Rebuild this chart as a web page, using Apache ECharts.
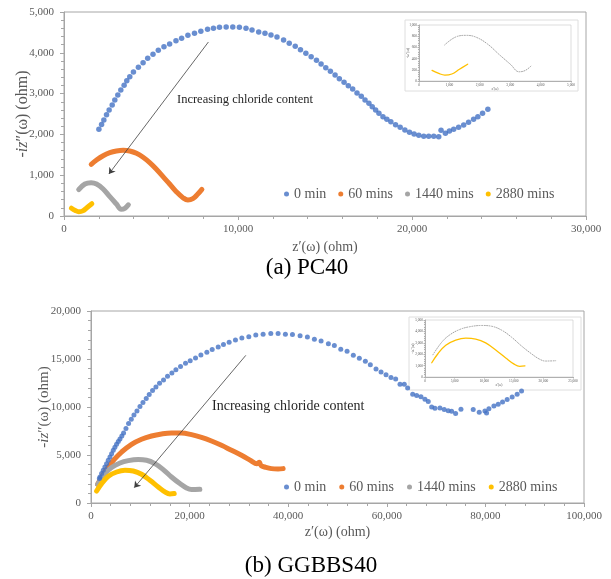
<!DOCTYPE html>
<html>
<head>
<meta charset="utf-8">
<script src="https://cdn.jsdelivr.net/npm/echarts@6.0.0/dist/echarts.min.js"></script>
<style>
  html, body { margin: 0; padding: 0; background: #ffffff; }
  #chart { width: 611px; height: 579px; }
</style>
</head>
<body>
<div id="chart"></div>
<script>
// Nyquist plots of impedance for two concrete mixes at four exposure times.
const seriesNames = ['0 min', '60 mins', '1440 mins', '2880 mins'];
const seriesColors = ['#4472C4', '#ED7D31', '#A5A5A5', '#FFC000'];

// ---- (a) PC40 : [z' (ohm), -iz'' (ohm)] ----
const pc40_0min = [
  [2005,2125],[2160,2240],[2290,2353],[2445,2483],[2595,2598],[2770,2720],[2920,2843],[3093,2966],
  [3265,3088],[3455,3203],[3608,3316],[3780,3415],[3990,3530],[4275,3645],[4545,3758],[4810,3865],
  [5115,3963],[5420,4061],[5745,4150],[6070,4216],[6435,4297],[6760,4355],[7120,4428],[7500,4477],
  [7865,4526],[8250,4575],[8590,4600],[8935,4624],[9320,4632],[9700,4632],[10080,4624],[10460,4600],
  [10805,4559],[11190,4510],[11550,4477],[11895,4436],[12240,4387],[12620,4314],[12945,4232],[13290,4158],
  [13590,4077],[13900,3987],[14205,3905],[14510,3815],[14775,3725],[15045,3635],[15310,3546],[15580,3456],
  [15825,3366],[16095,3277],[16340,3194],[16590,3113],[16840,3015],[17085,2934],[17300,2843],[17525,2762],
  [17715,2680],[17910,2598],[18100,2517],[18330,2435],[18555,2369],[18785,2312],[19055,2238],[19320,2173],
  [19590,2108],[19855,2051],[20120,2010],[20390,1977],[20675,1953],[20960,1953],[21250,1953],[21535,1944],
  [21670,2100],[21920,2027],[22150,2083],[22395,2125],[22680,2173],[22970,2230],[23250,2296],[23540,2369],
  [23785,2435],[24055,2517],[24360,2615]
];
const pc40_60min = [
  [1565,1267],[1870,1372],[2250,1478],[2635,1552],[3015,1593],[3400,1610],[3780,1593],[4165,1536],
  [4545,1438],[4925,1307],[5310,1144],[5690,964],[6070,784],[6455,596],[6835,449],[7120,392],
  [7405,425],[7690,539],[7925,654]
];
const pc40_1440min = [
  [845,645],[1200,784],[1560,815],[1870,784],[2250,662],[2635,474],[3015,294],[3290,165],
  [3495,188],[3700,275]
];
const pc40_2880min = [
  [430,190],[650,135],[850,105],[1080,125],[1330,210],[1600,300]
];

// ---- (b) GGBBS40 ----
const gg40_0min = [
  [1700,2550],[1820,2710],[2150,3060],[2490,3406],[2820,3750],[3160,4100],[3500,4450],[3850,4790],
  [4180,5140],[4520,5490],[4850,5800],[5190,6115],[5540,6400],[5880,6670],[6250,6980],[6610,7290],
  [7090,7750],[7620,8270],[8170,8720],[8710,9170],[9320,9580],[9930,10040],[10540,10460],[11205,10875],
  [11810,11290],[12480,11710],[13170,12080],[13900,12470],[14710,12810],[15520,13200],[16410,13540],[17220,13890],
  [18160,14210],[19170,14550],[20120,14830],[21200,15100],[22290,15420],[23500,15700],[24580,15980],[25800,16250],
  [26870,16500],[28020,16740],[29300,16980],[30600,17190],[32010,17330],[33430,17500],[34910,17570],[36470,17650],
  [37950,17650],[39430,17570],[40860,17550],[42410,17430],[43890,17290],[45310,17050],[46670,16880],[48150,16600],
  [49360,16400],[50660,16010],[51940,15800],[53210,15390],[54430,15070],[55650,14760],[56660,14410],[57810,13960],
  [58830,13650],[59840,13370],[60850,13060],[61800,12920],[62680,12360],[63550,12360],[64230,11980],[65250,11320],
  [66060,11190],[66930,11080],[67740,10800],[68410,10560],[69100,10000],[69770,9860],[70780,9900],[71650,9730],
  [72460,9620],[73150,9550],[73960,9310],[75040,9760],[77530,9730],[78750,9450],[79900,9580],[80240,9380],
  [80710,9830],[81720,10100],[82590,10280],[83480,10520],[84410,10770],[85430,11040],[86440,11320],[87330,11670]
];
const gg40_60min = [
  [1340,1950],[2150,2710],[3510,3750],[4860,4620],[6200,5310],[8230,6110],[10250,6640],[12280,6980],
  [14310,7190],[16330,7290],[18360,7290],[20390,7120],[22410,6840],[24440,6460],[26460,6010],[28490,5490],
  [30520,4970],[32540,4380],[33600,4080],[34100,4250],[34500,3900],[35260,3750],[36600,3580],[37950,3540],
  [38970,3580]
];
const gg40_1440min = [
  [1340,1950],[2840,3060],[4170,3690],[5880,4170],[7560,4410],[9580,4520],[11270,4450],[12970,4100],
  [14650,3480],[16330,2710],[18030,2020],[19370,1560],[20390,1400],[22080,1430]
];
const gg40_2880min = [
  [1140,1250],[2150,2020],[3510,2780],[5190,3230],[6890,3410],[8570,3330],[10250,2990],[11950,2360],
  [13640,1670],[14990,1150],[16000,940],[16880,980]
];

// Tick values of each axis
const pc40XTicks = [0, 10000, 20000, 30000];
const pc40YTicks = [0, 1000, 2000, 3000, 4000, 5000];
const gg40XTicks = [0, 20000, 40000, 60000, 80000, 100000];
const gg40YTicks = [0, 5000, 10000, 15000, 20000];
const pc40InsetXTicks = [0, 1000, 2000, 3000, 4000, 5000];
const pc40InsetYTicks = [0, 200, 400, 600, 800, 1000];
const gg40InsetXTicks = [0, 5000, 10000, 15000, 20000, 25000];
const gg40InsetYTicks = [0, 1000, 2000, 3000, 4000, 5000];

// Annotation arrows, in axis units (tail -> head)
const pc40Arrow = [[8300, 4265], [2580, 1030]];
const gg40Arrow = [[31400, 15380], [8770, 1600]];

const annotationText = 'Increasing chloride content';
const captionA = '(a) PC40';
const captionB = '(b) GGBBS40';

const SERIF = '"Liberation Serif", "Times New Roman", serif';
const TEXT_GREY = '#595959';
const AXIS_LINE = '#a6a6a6';
const fmt = v => Number(v).toLocaleString('en-US');

function valueAxis(gridIndex, ticks, opts) {
  return {
    type: 'value',
    gridIndex: gridIndex,
    min: ticks[0],
    max: ticks[ticks.length - 1],
    interval: ticks[1] - ticks[0],
    axisLine: { show: true, lineStyle: { color: opts.lineColor || AXIS_LINE, width: 1 } },
    axisTick: { show: true, inside: false, length: opts.tick || 4, lineStyle: { color: opts.lineColor || AXIS_LINE } },
    minorTick: { show: true, splitNumber: 5, length: opts.minor || 3, lineStyle: { color: opts.lineColor || AXIS_LINE } },
    splitLine: { show: false },
    minorSplitLine: { show: false },
    axisLabel: {
      formatter: fmt,
      color: TEXT_GREY,
      fontFamily: SERIF,
      fontSize: opts.fontSize || 11,
      margin: opts.margin || 8
    },
    name: opts.name || '',
    nameLocation: 'middle',
    nameGap: opts.nameGap || 20,
    nameMoveOverlap: false,
    nameRotate: opts.nameRotate,
    nameTextStyle: {
      color: TEXT_GREY,
      fontFamily: SERIF,
      fontSize: opts.nameSize || 14,
      rich: {
        it: { fontStyle: 'italic', fontFamily: SERIF, fontSize: opts.nameSize || 14, color: TEXT_GREY }
      }
    }
  };
}

function dotSeries(name, data, color, xi, size) {
  return {
    name: name, type: 'scatter', xAxisIndex: xi, yAxisIndex: xi,
    data: data, symbol: 'circle', symbolSize: size,
    itemStyle: { color: color }, silent: true, z: 3
  };
}
function bandSeries(name, data, color, xi, width, dotted) {
  return {
    name: name, type: 'line', xAxisIndex: xi, yAxisIndex: xi,
    data: data, smooth: 0.4, showSymbol: false, symbol: 'circle',
    itemStyle: { color: color },
    lineStyle: { color: color, width: width, type: dotted ? [1, 1.5] : 'solid', cap: 'round', join: 'round' },
    silent: true, z: 2
  };
}
function arrowSeries(coords, xi) {
  return {
    type: 'lines', coordinateSystem: 'cartesian2d', xAxisIndex: xi, yAxisIndex: xi,
    symbol: ['none', 'arrow'], symbolSize: 6,
    lineStyle: { color: '#404040', width: 0.8, opacity: 1, curveness: 0 },
    data: [{ coords: coords }], silent: true, z: 4
  };
}

const yName = '-{it|iz}″(ω) (ohm)';
const xName = 'z′(ω) (ohm)';

const option = {
  animation: false,
  backgroundColor: '#ffffff',
  grid: [
    { left: 64, top: 12, width: 522, height: 204, show: true, borderColor: AXIS_LINE, borderWidth: 1, backgroundColor: 'transparent' },
    { left: 91, top: 311, width: 493, height: 192, show: true, borderColor: AXIS_LINE, borderWidth: 1, backgroundColor: 'transparent' },
    { left: 419, top: 25, width: 152, height: 56, show: true, borderColor: '#c8c8c8', borderWidth: 0.6, backgroundColor: 'transparent' },
    { left: 425, top: 320, width: 148, height: 57, show: true, borderColor: '#c8c8c8', borderWidth: 0.6, backgroundColor: 'transparent' }
  ],
  xAxis: [
    valueAxis(0, pc40XTicks, { name: xName, nameGap: 24, nameSize: 14 }),
    valueAxis(1, gg40XTicks, { name: xName, nameGap: 22, nameSize: 14 }),
    valueAxis(2, pc40InsetXTicks, { name: 'z′(ω)', nameGap: 6, nameSize: 3.5, fontSize: 3.5, margin: 2, tick: 1.5, minor: 1, lineColor: '#b0b0b0' }),
    valueAxis(3, gg40InsetXTicks, { name: 'z′(ω)', nameGap: 6, nameSize: 3.5, fontSize: 3.5, margin: 2, tick: 1.5, minor: 1, lineColor: '#b0b0b0' })
  ],
  yAxis: [
    valueAxis(0, pc40YTicks, { name: yName, nameGap: 33, nameSize: 16, nameRotate: 90, margin: 10 }),
    valueAxis(1, gg40YTicks, { name: yName, nameGap: 39, nameSize: 15, nameRotate: 90, margin: 10 }),
    valueAxis(2, pc40InsetYTicks, { name: '-iz″(ω)', nameGap: 9, nameSize: 3.5, nameRotate: 90, fontSize: 3.5, margin: 2, tick: 1.5, minor: 1, lineColor: '#b0b0b0' }),
    valueAxis(3, gg40InsetYTicks, { name: '-iz″(ω)', nameGap: 10, nameSize: 3.5, nameRotate: 90, fontSize: 3.5, margin: 2, tick: 1.5, minor: 1, lineColor: '#b0b0b0' })
  ],
  legend: [
    {
      left: 279, top: 182, itemWidth: 5, itemHeight: 5, itemGap: 12, icon: 'circle',
      textStyle: { fontFamily: SERIF, fontSize: 14, color: TEXT_GREY },
      data: seriesNames, selectedMode: false
    },
    {
      left: 279, top: 475, itemWidth: 5, itemHeight: 5, itemGap: 13, icon: 'circle',
      textStyle: { fontFamily: SERIF, fontSize: 14, color: TEXT_GREY },
      data: seriesNames, selectedMode: false
    }
  ],
  series: [
    dotSeries(seriesNames[0], pc40_0min, seriesColors[0], 0, 5.5),
    bandSeries(seriesNames[1], pc40_60min, seriesColors[1], 0, 5),
    bandSeries(seriesNames[2], pc40_1440min, seriesColors[2], 0, 5),
    bandSeries(seriesNames[3], pc40_2880min, seriesColors[3], 0, 5),
    arrowSeries(pc40Arrow, 0),

    dotSeries(seriesNames[0], gg40_0min, seriesColors[0], 1, 5),
    bandSeries(seriesNames[1], gg40_60min, seriesColors[1], 1, 5),
    bandSeries(seriesNames[2], gg40_1440min, seriesColors[2], 1, 5),
    bandSeries(seriesNames[3], gg40_2880min, seriesColors[3], 1, 5),
    arrowSeries(gg40Arrow, 1),

    // insets: the two longest exposures on a zoomed scale
    bandSeries(seriesNames[2], pc40_1440min, '#999999', 2, 0.9, true),
    bandSeries(seriesNames[3], pc40_2880min, seriesColors[3], 2, 1.3),
    bandSeries(seriesNames[2], gg40_1440min, '#999999', 3, 0.9, true),
    bandSeries(seriesNames[3], gg40_2880min, seriesColors[3], 3, 1.3)
  ],
  graphic: [
    { type: 'rect', silent: true, z: 1, shape: { x: 405, y: 20, width: 173, height: 71 },
      style: { fill: 'none', stroke: '#dedede', lineWidth: 1 } },
    { type: 'rect', silent: true, z: 1, shape: { x: 409, y: 317, width: 172, height: 73 },
      style: { fill: 'none', stroke: '#dedede', lineWidth: 1 } },
    { type: 'text', silent: true, x: 177, y: 100,
      style: { text: annotationText, font: '12.5px ' + SERIF, fill: '#262626', align: 'left', verticalAlign: 'middle' } },
    { type: 'text', silent: true, x: 212, y: 406,
      style: { text: annotationText, font: '14px ' + SERIF, fill: '#262626', align: 'left', verticalAlign: 'middle' } },
    { type: 'text', silent: true, x: 307, y: 268,
      style: { text: captionA, font: '23px ' + SERIF, fill: '#000000', align: 'center', verticalAlign: 'middle' } },
    { type: 'text', silent: true, x: 311, y: 566,
      style: { text: captionB, font: '23px ' + SERIF, fill: '#000000', align: 'center', verticalAlign: 'middle' } }
  ]
};

const chart = echarts.init(document.getElementById('chart'), null, { renderer: 'canvas' });
chart.setOption(option);
</script>
</body>
</html>
